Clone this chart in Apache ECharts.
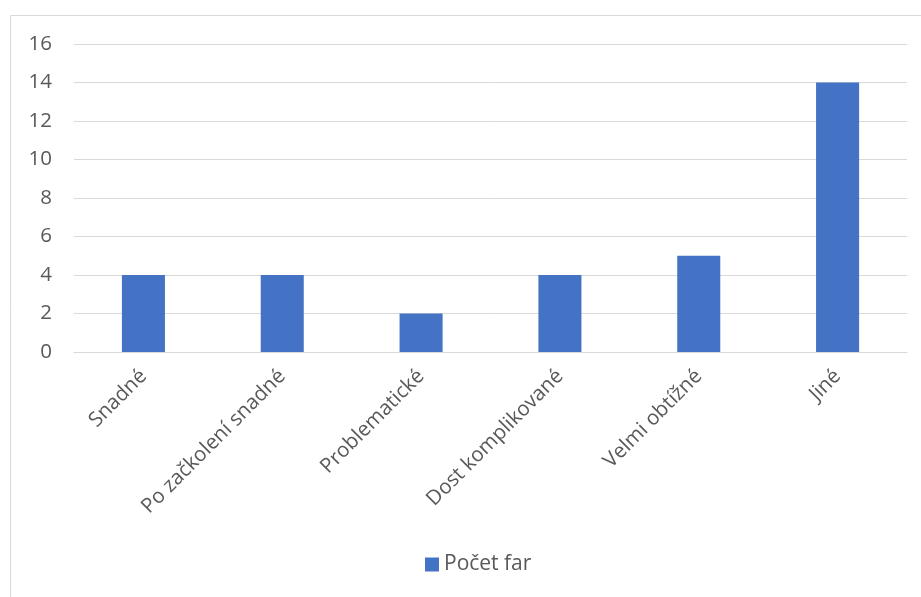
<!DOCTYPE html>
<html>
<head>
<meta charset="utf-8">
<script src="https://cdn.jsdelivr.net/npm/echarts@6/dist/echarts.min.js"></script>
<style>
html,body{margin:0;padding:0;background:#fff;}
#c{width:921px;height:597px;}
</style>
</head>
<body>
<div id="c"></div>
<script>
const categories = ["Snadné", "Po začkolení snadné", "Problematické", "Dost komplikované", "Velmi obtížné", "Jiné"];
const seriesName = "Počet far";
const values = [4, 4, 2, 4, 5, 14];
const yMin = 0, yMax = 16, yStep = 2;

const chart = echarts.init(document.getElementById('c'), null, {renderer: 'canvas'});
const font = "'Open Sans', 'DejaVu Sans', sans-serif";
chart.setOption({
  animation: false,
  backgroundColor: '#ffffff',
  graphic: [{
    type: 'rect', silent: true,
    shape: {x: 10.5, y: 15.5, width: 1000, height: 1000},
    style: {fill: 'none', stroke: '#d9d9d9', lineWidth: 1}
  }],
  grid: {left: 74, right: 14, top: 44, bottom: 245, containLabel: false},
  legend: {
    data: [seriesName],
    left: 425, top: 554, padding: 0,
    itemWidth: 14, itemHeight: 14, itemGap: 5,
    icon: 'rect',
    textStyle: {color: '#595959', fontSize: 21, fontFamily: font, padding: [0, 0, 0, 0]}
  },
  xAxis: {
    type: 'category',
    data: categories,
    axisLine: {show: true, lineStyle: {color: '#d9d9d9', width: 1}},
    axisTick: {show: false},
    axisLabel: {rotate: 45, interval: 0, margin: 21, color: '#595959', fontSize: 20.5, fontFamily: font}
  },
  yAxis: {
    type: 'value',
    min: yMin, max: yMax, interval: yStep,
    axisLine: {show: false},
    axisTick: {show: false},
    splitLine: {lineStyle: {color: '#d9d9d9', width: 1}},
    axisLabel: {margin: 22, color: '#595959', fontSize: 20.5, fontFamily: font}
  },
  series: [{
    name: seriesName,
    type: 'bar',
    data: values,
    barWidth: '31%',
    itemStyle: {color: '#4472c4'}
  }]
});
</script>
</body>
</html>
